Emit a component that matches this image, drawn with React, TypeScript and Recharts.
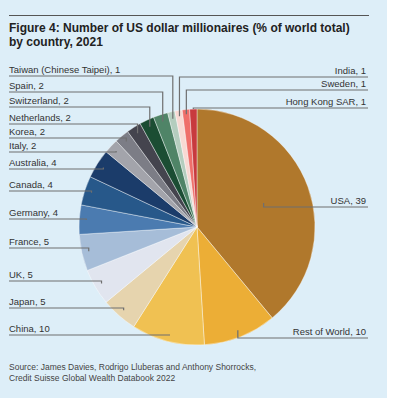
import React from "react";
import { PieChart, Pie, Cell } from "recharts";

const countries = [
  "USA", "Rest of World", "China", "Japan", "UK", "France", "Germany", "Canada",
  "Australia", "Italy", "Korea", "Netherlands", "Switzerland", "Spain",
  "Taiwan (Chinese Taipei)", "India", "Sweden", "Hong Kong SAR",
];
const shares = [39, 10, 10, 5, 5, 5, 4, 4, 4, 2, 2, 2, 2, 2, 1, 1, 1, 1];
const colors = [
  "#B0782C", "#ECAE36", "#F0C152", "#E6D4AE", "#E1E5EF", "#A6BDD8", "#4B7BB0", "#27588A",
  "#1B3C6A", "#A3A4AB", "#7C7D86", "#44444E", "#1B4D33", "#4F8467",
  "#B4CDBE", "#F8D9D3", "#EF6F6A", "#C83A3E",
];

// label layout (annotation placement)
const labelLineY = [207, 338, 335, 308, 281, 248, 219, 191, 169, 152, 138, 124, 107, 92, 76, 77, 90, 108];
const labelSide = ["R", "R", "L", "L", "L", "L", "L", "L", "L", "L", "L", "L", "L", "L", "L", "R", "R", "R"];
const anchorFactor = [0.6, 0.94, 0.94, 0.94, 0.94, 0.94, 0.94, 0.94, 0.94, 0.94, 0.94, 0.94, 0.94, 0.94, 0.94, 0.95, 0.96, 1.0];

const data = countries.map((name, i) => ({ name, value: shares[i] }));

const RADIAN = Math.PI / 180;
const LEFT_X = 9;
const RIGHT_X = 368;

const renderLabel = (props: any) => {
  const { cx, cy, midAngle, outerRadius, index } = props;
  const r = outerRadius * anchorFactor[index];
  const ax = cx + r * Math.cos(-midAngle * RADIAN);
  const ay = cy + r * Math.sin(-midAngle * RADIAN);
  const ly = labelLineY[index];
  const left = labelSide[index] === "L";
  const x0 = left ? LEFT_X : RIGHT_X;
  const text = `${countries[index]}, ${shares[index]}`;
  return (
    <g key={`lbl-${index}`}>
      <polyline
        points={`${x0},${ly} ${ax},${ly} ${ax},${ay}`}
        fill="none"
        stroke="#6f6f6f"
        strokeWidth={1.2}
      />
      <text
        x={left ? LEFT_X : RIGHT_X - 2}
        y={ly - 3}
        textAnchor={left ? "start" : "end"}
        fontSize={9.5}
        fill="#333"
        fontFamily="'Liberation Sans', Arial, sans-serif"
      >
        {text}
      </text>
    </g>
  );
};

export default function App() {
  return (
    <div
      style={{
        position: "absolute",
        left: 0,
        top: 0,
        width: 393,
        height: 404,
        background: "#ffffff",
        fontFamily: "'Liberation Sans', Arial, sans-serif",
      }}
    >
      <div
        style={{
          position: "absolute",
          left: 0,
          top: 0,
          width: 387,
          height: 398,
          background: "#DDEEF8",
        }}
      />
      <div
        style={{
          position: "absolute",
          left: 9,
          top: 15,
          width: 360,
          height: 1,
          background: "#555",
        }}
      />
      <div
        style={{
          position: "absolute",
          left: 9,
          top: 21,
          width: 370,
          fontSize: 12,
          lineHeight: "14px",
          fontWeight: "bold",
          color: "#222",
        }}
      >
        Figure 4: Number of US dollar millionaires (% of world total)
        <br />
        by country, 2021
      </div>
      <div style={{ position: "absolute", left: 0, top: 0 }}>
        <PieChart width={393} height={404} margin={{ top: 0, right: 0, bottom: 0, left: 0 }}>
          <Pie
            data={data}
            dataKey="value"
            nameKey="name"
            cx={197}
            cy={227}
            outerRadius={118}
            startAngle={90}
            endAngle={-270}
            stroke="#ffffff"
            strokeWidth={0.4}
            label={renderLabel}
            labelLine={false}
            isAnimationActive={false}
          >
            {data.map((d, i) => (
              <Cell key={d.name} fill={colors[i]} />
            ))}
          </Pie>
        </PieChart>
      </div>
      <div
        style={{
          position: "absolute",
          left: 9,
          top: 361.5,
          width: 370,
          fontSize: 8.5,
          lineHeight: "11px",
          color: "#444",
        }}
      >
        Source: James Davies, Rodrigo Lluberas and Anthony Shorrocks,
        <br />
        Credit Suisse Global Wealth Databook 2022
      </div>
    </div>
  );
}
